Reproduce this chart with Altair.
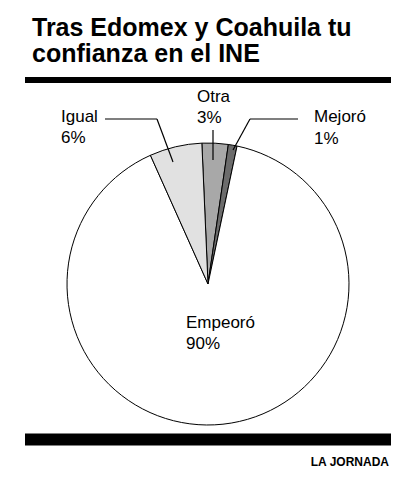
import math
import altair as alt
import pandas as pd

# ---- data ----
categories = ["Otra", "Mejoró", "Empeoró", "Igual"]
percentages = [3, 1, 90, 6]
slice_order = [1, 2, 3, 4]
slice_colors = ["#a8a8a8", "#6c6c6c", "#ffffff", "#e1e1e1"]

title_lines = ["Tras Edomex y Coahuila tu", "confianza en el INE"]
source_text = "LA JORNADA"

df = pd.DataFrame({"categoria": categories, "porcentaje": percentages, "orden": slice_order})
one = pd.DataFrame({"k": [0]})

FONT = "Liberation Sans"
W, H = 401, 484
CX, CY, R = 200, 276, 141
ROT = -2.5 * math.pi / 180

base = alt.Chart(df)
anno = alt.Chart(one)

pie = base.mark_arc(stroke="black", strokeWidth=1, radius=R).encode(
    theta=alt.Theta("porcentaje:Q", stack=True,
                    scale=alt.Scale(range=[ROT, 2 * math.pi + ROT])),
    color=alt.Color("categoria:N",
                    scale=alt.Scale(domain=categories, range=slice_colors),
                    legend=None),
    order=alt.Order("orden:Q"),
    x=alt.value(CX),
    y=alt.value(CY),
)


def label(cat, x, y1, y2):
    f = base.transform_filter(alt.datum.categoria == cat)
    name = f.mark_text(align="left", baseline="alphabetic", font=FONT,
                       fontSize=17, color="black").encode(
        text="categoria:N", x=alt.value(x), y=alt.value(y1))
    pct = f.transform_calculate(pct="datum.porcentaje + '%'").mark_text(
        align="left", baseline="alphabetic", font=FONT, fontSize=17,
        color="black").encode(text="pct:N", x=alt.value(x), y=alt.value(y2))
    return [name, pct]


def seg(x1, y1, x2, y2, w=1.2):
    return anno.mark_rule(color="black", strokeWidth=w).encode(
        x=alt.value(x1), y=alt.value(y1), x2=alt.value(x2), y2=alt.value(y2))


def bar(x1, x2, y1, y2):
    return anno.mark_rect(color="black").encode(
        x=alt.value(x1), x2=alt.value(x2), y=alt.value(y1), y2=alt.value(y2))


layers = [pie]
layers += label("Igual", 53, 114, 135)
layers += label("Otra", 189, 94, 115)
layers += label("Mejoró", 306, 114, 136)
layers += label("Empeoró", 178, 320, 341)

layers += [
    seg(97, 111, 149, 111), seg(149, 111, 165, 154),
    seg(205, 122, 205, 152),
    seg(290, 111, 242, 111), seg(242, 111, 225, 142),
]

layers += [bar(17, 383, 69, 75), bar(17, 383, 425.5, 437.5)]

for i, (line, yb) in enumerate(zip(title_lines, [28, 54])):
    layers.append(anno.mark_text(align="left", baseline="alphabetic", font=FONT,
                                 fontSize=25, fontWeight="bold", color="black").encode(
        text=alt.value(line), x=alt.value(24), y=alt.value(yb)))

layers.append(anno.mark_text(align="right", baseline="alphabetic", font=FONT,
                             fontSize=12, fontWeight="bold", color="black").encode(
    text=alt.value(source_text), x=alt.value(381), y=alt.value(458)))

chart = alt.layer(*layers).properties(
    width=W, height=H, autosize="none", padding=0, background="white"
).configure_view(stroke=None)

chart.save("out.html", embed_options={"renderer": "svg", "actions": False})
